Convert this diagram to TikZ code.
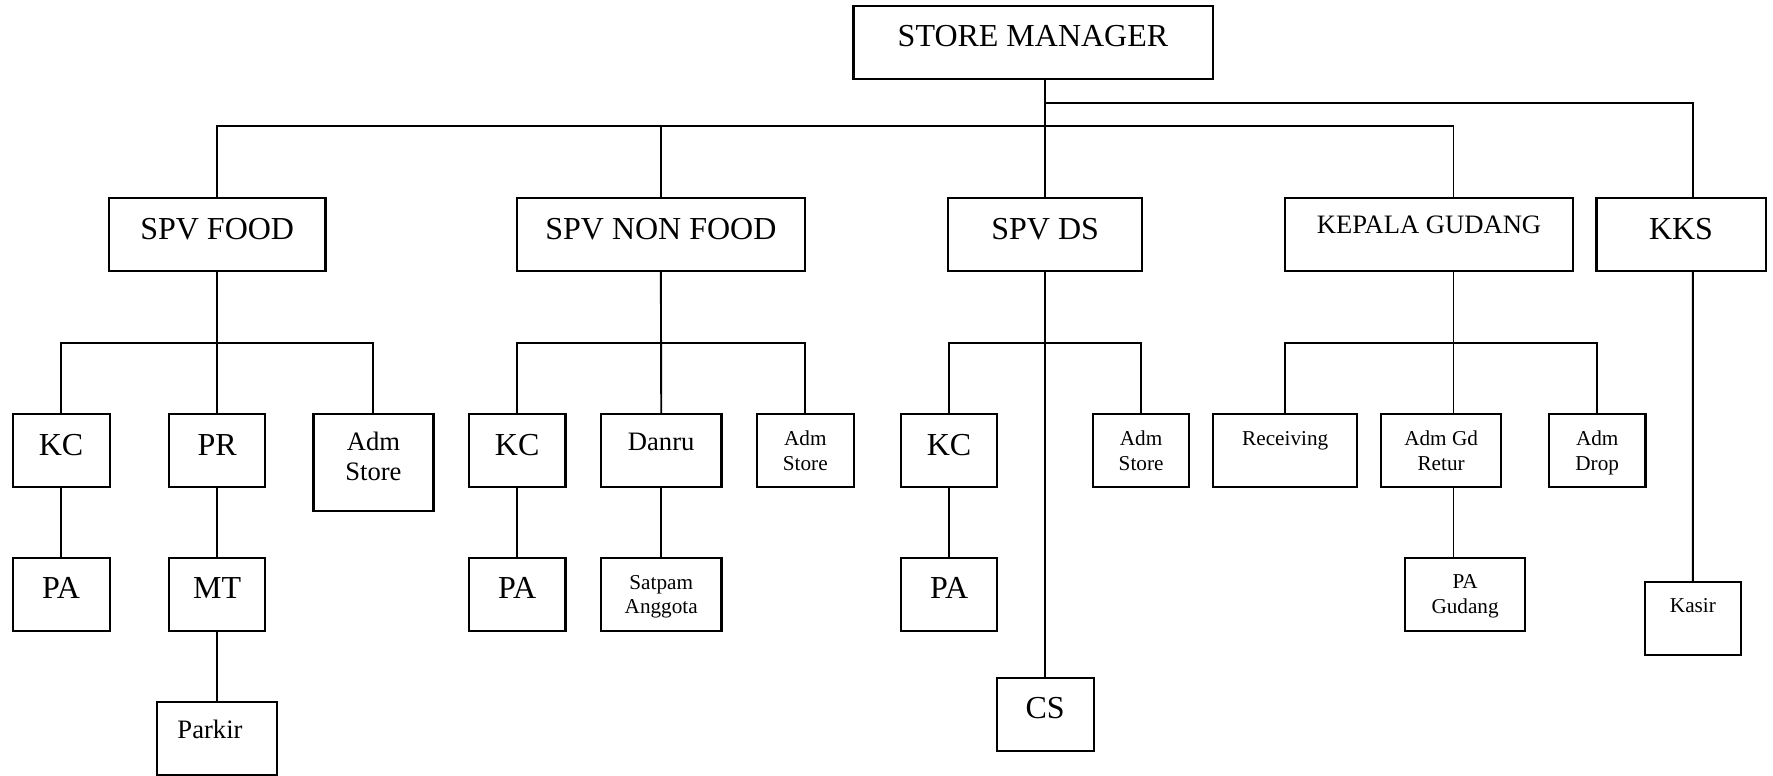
\documentclass[tikz,border=0pt]{standalone}
\usepackage{fontspec}
\setmainfont{Liberation Serif}
\newcommand{\orgbox}[5]{\node[box, minimum width={(#4-#2)*0.5pt}, minimum height={(#5-#3)*0.5pt}] (#1) at ({(#2+#4)/2},{(#3+#5)/2}) {};}
\tikzset{
  box/.style={draw, rectangle, line width=1.1pt, inner sep=0pt, outer sep=0pt},
  conn/.style={draw, line width=0.95pt},
  bigtxt/.style={anchor=base, inner sep=0pt, font=\fontsize{16}{19}\selectfont},
  midtxt/.style={anchor=base, inner sep=0pt, font=\fontsize{13.3}{16}\selectfont},
  smalltxt/.style={anchor=base, inner sep=0pt, font=\fontsize{10.6}{13}\selectfont},
}
\begin{document}
\begin{tikzpicture}[x=0.5pt, y=-0.5pt]
\useasboundingbox (0,0) rectangle (1773,776);
% boxes
\orgbox{SM}{853.5}{6}{1213}{78.7}
\orgbox{SPVF}{109}{198.3}{325.5}{270.7}
\orgbox{NF}{517}{198.3}{804.7}{270.7}
\orgbox{DS}{948.3}{198.3}{1142}{270.7}
\orgbox{KG}{1285}{198.3}{1573}{270.7}
\orgbox{KKS}{1596.4}{198.3}{1766}{270.7}
\orgbox{KCa}{12.6}{414.3}{109.6}{486.7}
\orgbox{PR}{169.3}{414.3}{265.2}{486.7}
\orgbox{ASa}{313.4}{414.3}{433.4}{510.7}
\orgbox{KCb}{469}{414.3}{565.4}{486.7}
\orgbox{DAN}{601}{414.3}{721.5}{486.7}
\orgbox{ASb}{757}{414.3}{853.6}{486.7}
\orgbox{KCc}{901}{414.3}{997.3}{486.7}
\orgbox{ASc}{1093}{414.3}{1189.2}{486.7}
\orgbox{REC}{1213.2}{414.3}{1357.2}{486.7}
\orgbox{AGR}{1381}{414.3}{1501.3}{486.7}
\orgbox{ADR}{1549}{414.3}{1645.4}{486.7}
\orgbox{PAa}{12.6}{558.3}{109.6}{630.7}
\orgbox{MT}{169.3}{558.3}{265.2}{630.7}
\orgbox{PAb}{469}{558.3}{565.4}{630.7}
\orgbox{SAT}{601}{558.3}{721.5}{630.7}
\orgbox{PAc}{901}{558.3}{997.3}{630.7}
\orgbox{PAG}{1405}{558.3}{1525.2}{630.7}
\orgbox{KAS}{1644.8}{582.3}{1741}{654.7}
\orgbox{PKR}{157.3}{702.3}{277.2}{775}
\orgbox{CS}{996.7}{678.3}{1093.6}{751}
% texts
\node[bigtxt] (tSM) at (1033,46.7) {STORE MANAGER};
\node[bigtxt] (tSPVF) at (217.2,239.3) {SPV FOOD};
\node[bigtxt] (tNF) at (660.9,239.3) {SPV NON FOOD};
\node[bigtxt] (tDS) at (1045.2,239.3) {SPV DS};
\node[midtxt] (tKG) at (1429,233.3) {KEPALA GUDANG};
\node[bigtxt] (tKKS) at (1681,239.3) {KKS};
\node[bigtxt] (tKCa) at (61.1,455) {KC};
\node[bigtxt] (tPR) at (217.2,455) {PR};
\node[midtxt] (tASa1) at (373.4,450) {Adm};
\node[midtxt] (tASa2) at (373.4,480.7) {Store};
\node[bigtxt] (tKCb) at (517.2,455) {KC};
\node[midtxt] (tDAN) at (661.2,450) {Danru};
\node[smalltxt] (tASb1) at (805.3,445) {Adm};
\node[smalltxt] (tASb2) at (805.3,470) {Store};
\node[bigtxt] (tKCc) at (949.1,455) {KC};
\node[smalltxt] (tASc1) at (1141.1,445) {Adm};
\node[smalltxt] (tASc2) at (1141.1,470) {Store};
\node[smalltxt] (tREC) at (1285.2,445) {Receiving};
\node[smalltxt] (tAGR1) at (1441.1,445) {Adm Gd};
\node[smalltxt] (tAGR2) at (1441.1,470) {Retur};
\node[smalltxt] (tADR1) at (1597.2,445) {Adm};
\node[smalltxt] (tADR2) at (1597.2,470) {Drop};
\node[bigtxt] (tPAa) at (61.1,598.3) {PA};
\node[bigtxt] (tMT) at (217.2,598.3) {MT};
\node[bigtxt] (tPAb) at (517.2,598.3) {PA};
\node[smalltxt] (tSAT1) at (661.2,589.3) {Satpam};
\node[smalltxt] (tSAT2) at (661.2,613.3) {Anggota};
\node[bigtxt] (tPAc) at (949.1,598.3) {PA};
\node[smalltxt] (tPAG1) at (1465.1,588.3) {PA};
\node[smalltxt] (tPAG2) at (1465.1,613.3) {Gudang};
\node[smalltxt] (tKAS) at (1692.9,612.7) {Kasir};
\node[midtxt] (tPKR) at (210,738.3) {Parkir};
\node[bigtxt] (tCS) at (1045.2,718.3) {CS};
% helper coordinates
\coordinate (busA) at (0,126.3);
\coordinate (busB) at (0,102.7);
\coordinate (busC) at (0,342.7);
\coordinate (kgx) at (1453.5,0);
\coordinate (kksx) at (1692.8,0);
% level 1 connectors
\draw[conn] (SM.south -| DS.north) -- (DS.north);
\draw[conn] (SPVF.north) -- (SPVF.north |- busA) -- (busA -| kgx) -- (KG.north -| kgx);
\draw[conn] (NF.north) -- (NF.north |- busA);
\draw[conn] (DS.north |- busB) -- (busB -| kksx) -- (KKS.north -| kksx);
% SPV FOOD
\draw[conn] (SPVF.south) -- (PR.north);
\draw[conn] (KCa.north) -- (KCa.north |- busC) -- (ASa.north |- busC) -- (ASa.north);
\draw[conn] (KCa.south) -- (PAa.north);
\draw[conn] (PR.south) -- (MT.north);
\draw[conn] (MT.south) -- (PKR.north);
% SPV NON FOOD
\draw[conn] (NF.south) -- (DAN.north);
\draw[conn] (KCb.north) -- (KCb.north |- busC) -- (ASb.north |- busC) -- (ASb.north);
\draw[conn] (KCb.south) -- (PAb.north);
\draw[conn] (DAN.south) -- (SAT.north);
% SPV DS
\draw[conn] (DS.south) -- (CS.north);
\draw[conn] (KCc.north) -- (KCc.north |- busC) -- (ASc.north |- busC) -- (ASc.north);
\draw[conn] (KCc.south) -- (PAc.north);
% KEPALA GUDANG
\draw[conn] (KG.south -| kgx) -- (AGR.north -| kgx);
\draw[conn] (REC.north) -- (REC.north |- busC) -- (ADR.north |- busC) -- (ADR.north);
\draw[conn] (AGR.south -| kgx) -- (PAG.north -| kgx);
% KKS
\draw[conn] (KKS.south -| kksx) -- (KAS.north);
\end{tikzpicture}
\end{document}
